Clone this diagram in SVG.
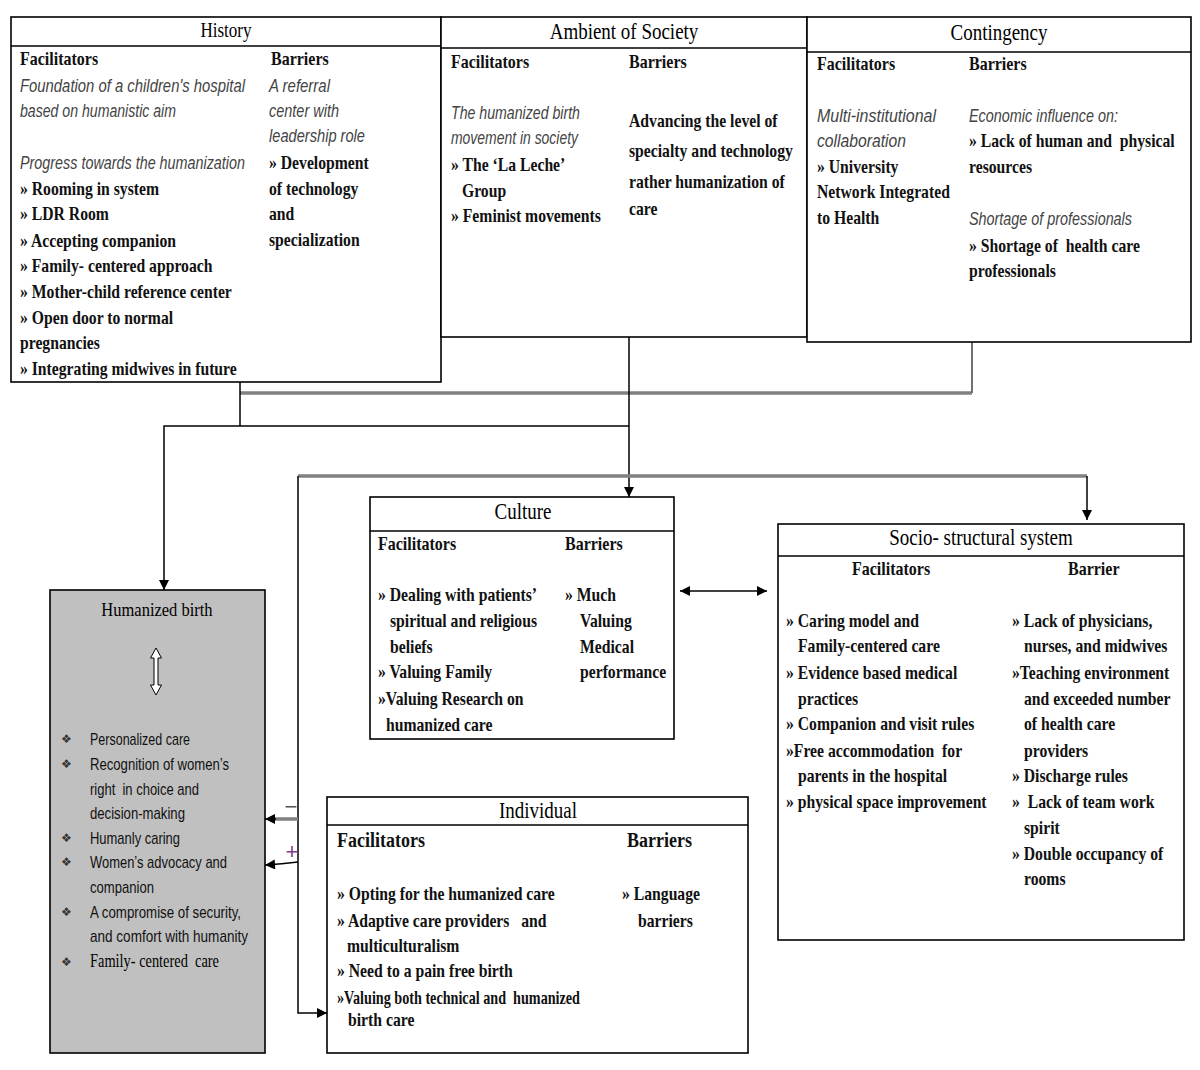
<svg xmlns="http://www.w3.org/2000/svg" width="1200" height="1070" viewBox="0 0 1200 1070">
<style>
text{white-space:pre;transform-box:fill-box;transform-origin:0 100%}
.box{fill:#fff;stroke:#000;stroke-width:1.6}
.hb{fill:#c0c0c0;stroke:#000;stroke-width:1.6}
.dv{stroke:#000;stroke-width:1.6}
.t{font-family:"Liberation Serif",serif;font-size:19px;fill:#000;transform:scaleY(1.17)}
.h{font-family:"Liberation Serif",serif;font-weight:bold;font-size:16px;fill:#111;transform:scaleY(1.2)}
.b{font-family:"Liberation Serif",serif;font-weight:bold;font-size:15.7px;fill:#111;transform:scaleY(1.2)}
.i{font-family:"Liberation Sans",sans-serif;font-style:italic;font-size:16.5px;fill:#444;transform:scaleY(1.15)}
.s{font-family:"Liberation Sans",sans-serif;font-size:15.5px;fill:#111;transform:scaleY(1.12)}
.bu{font-family:"DejaVu Sans",sans-serif;font-size:12px;fill:#333}
.sg{font-family:"Liberation Sans",sans-serif;font-size:22px;text-anchor:middle}
.ln{stroke:#000;stroke-width:1.5;fill:none}
.gl{stroke:#808080;stroke-width:3.5;fill:none}
.gv{stroke:#707070;stroke-width:2;fill:none}
.mid{text-anchor:middle}
</style>
<defs>
<marker id="ah" viewBox="0 0 10 10" refX="10" refY="5" markerWidth="11" markerHeight="10" markerUnits="userSpaceOnUse" orient="auto-start-reverse">
<path d="M0,0 L10,5 L0,10 z" fill="#000"/>
</marker>
</defs>

<g id="connectors">
<path class="gl" d="M240,393 H972"/>
<path class="gv" d="M972,393 V342"/>
<path class="ln" d="M240,382 V426"/>
<path class="ln" d="M629,426 H164 V590" marker-end="url(#ah)"/>
<path class="ln" d="M629,337 V497" marker-end="url(#ah)"/>
<path class="gl" d="M298,476 H1087"/>
<path class="ln" d="M1087,476 V520" marker-end="url(#ah)"/>
<path class="ln" d="M298,476 V1013 H327" marker-end="url(#ah)"/>
<path class="gl" d="M298,819 H272"/>
<path class="ln" d="M276,819 H265" marker-end="url(#ah)"/>
<path class="ln" d="M298,862 Q282,864 265,865" marker-end="url(#ah)"/>
<path class="ln" d="M680,591 H767" marker-start="url(#ah)" marker-end="url(#ah)"/>
<text x="291" y="814" class="sg" style="fill:#555">−</text>
<text x="292" y="859" class="sg" style="fill:#7a3f8a">+</text>
</g>

<g id="history">
<rect class="box" x="11" y="17" width="430" height="365"/>
<line class="dv" x1="11" y1="46" x2="441" y2="46"/>
<text x="226" y="38" class="t mid" style="font-size:17px">History</text>
<text x="20" y="66" class="h">Facilitators</text>
<text x="271" y="66" class="h">Barriers</text>
<text x="20" y="93" class="i" textLength="225" lengthAdjust="spacingAndGlyphs">Foundation of a children's hospital</text>
<text x="20" y="118" class="i" textLength="156" lengthAdjust="spacingAndGlyphs">based on humanistic aim</text>
<text x="20" y="170" class="i" textLength="225" lengthAdjust="spacingAndGlyphs">Progress towards the humanization</text>
<text x="20" y="196" class="b">» Rooming in system</text>
<text x="20" y="221" class="b">» LDR Room</text>
<text x="20" y="248" class="b">» Accepting companion</text>
<text x="20" y="273" class="b">» Family- centered approach</text>
<text x="20" y="299" class="b">» Mother-child reference center</text>
<text x="20" y="325" class="b">» Open door to normal</text>
<text x="20" y="350" class="b">pregnancies</text>
<text x="20" y="376" class="b">» Integrating midwives in future</text>
<text x="269" y="93" class="i" textLength="61" lengthAdjust="spacingAndGlyphs">A referral</text>
<text x="269" y="118" class="i" textLength="70" lengthAdjust="spacingAndGlyphs">center with</text>
<text x="269" y="143" class="i" textLength="96" lengthAdjust="spacingAndGlyphs">leadership role</text>
<text x="269" y="170" class="b">» Development</text>
<text x="269" y="196" class="b">of technology</text>
<text x="269" y="221" class="b">and</text>
<text x="269" y="247" class="b">specialization</text>
</g>

<g id="ambient">
<rect class="box" x="441" y="17" width="366" height="320"/>
<line class="dv" x1="441" y1="48" x2="807" y2="48"/>
<text x="624" y="40" class="t mid">Ambient of Society</text>
<text x="451" y="69" class="h">Facilitators</text>
<text x="629" y="69" class="h">Barriers</text>
<text x="451" y="120" class="i" textLength="129" lengthAdjust="spacingAndGlyphs">The humanized birth</text>
<text x="451" y="145" class="i" textLength="127" lengthAdjust="spacingAndGlyphs">movement in society</text>
<text x="451" y="172" class="b">» The ‘La Leche’</text>
<text x="462" y="198" class="b">Group</text>
<text x="451" y="223" class="b">» Feminist movements</text>
<text x="629" y="128" class="b">Advancing the level of</text>
<text x="629" y="158" class="b">specialty and technology</text>
<text x="629" y="189" class="b">rather humanization of</text>
<text x="629" y="216" class="b">care</text>
</g>

<g id="contingency">
<rect class="box" x="807" y="17" width="384" height="325"/>
<line class="dv" x1="807" y1="52" x2="1191" y2="52"/>
<text x="999" y="41" class="t mid">Contingency</text>
<text x="817" y="71" class="h">Facilitators</text>
<text x="969" y="71" class="h">Barriers</text>
<text x="817" y="123" class="i" textLength="119" lengthAdjust="spacingAndGlyphs">Multi-institutional</text>
<text x="817" y="148" class="i" textLength="89" lengthAdjust="spacingAndGlyphs">collaboration</text>
<text x="817" y="174" class="b">» University</text>
<text x="817" y="199" class="b">Network Integrated</text>
<text x="817" y="225" class="b">to Health</text>
<text x="969" y="123" class="i" textLength="149" lengthAdjust="spacingAndGlyphs">Economic influence on:</text>
<text x="969" y="148" class="b">» Lack of human and  physical</text>
<text x="969" y="174" class="b">resources</text>
<text x="969" y="226" class="i" textLength="163" lengthAdjust="spacingAndGlyphs">Shortage of professionals</text>
<text x="969" y="253" class="b">» Shortage of  health care</text>
<text x="969" y="278" class="b">professionals</text>
</g>

<g id="culture">
<rect class="box" x="370" y="497" width="304" height="242"/>
<line class="dv" x1="370" y1="531" x2="674" y2="531"/>
<text x="523" y="520" class="t mid">Culture</text>
<text x="378" y="551" class="h">Facilitators</text>
<text x="565" y="551" class="h">Barriers</text>
<text x="378" y="602" class="b">» Dealing with patients’</text>
<text x="390" y="628" class="b">spiritual and religious</text>
<text x="390" y="654" class="b">beliefs</text>
<text x="378" y="679" class="b">» Valuing Family</text>
<text x="378" y="706" class="b">»Valuing Research on</text>
<text x="386" y="732" class="b">humanized care</text>
<text x="565" y="602" class="b">» Much</text>
<text x="580" y="628" class="b">Valuing</text>
<text x="580" y="654" class="b">Medical</text>
<text x="580" y="679" class="b">performance</text>
</g>

<g id="socio-structural">
<rect class="box" x="778" y="524" width="406" height="416"/>
<line class="dv" x1="778" y1="556" x2="1184" y2="556"/>
<text x="981" y="546" class="t mid">Socio- structural system</text>
<text x="852" y="576" class="h">Facilitators</text>
<text x="1068" y="576" class="h">Barrier</text>
<text x="786" y="628" class="b">» Caring model and</text>
<text x="798" y="653" class="b">Family-centered care</text>
<text x="786" y="680" class="b">» Evidence based medical</text>
<text x="798" y="706" class="b">practices</text>
<text x="786" y="731" class="b">» Companion and visit rules</text>
<text x="786" y="758" class="b">»Free accommodation  for</text>
<text x="798" y="783" class="b">parents in the hospital</text>
<text x="786" y="809" class="b">» physical space improvement</text>
<text x="1012" y="628" class="b">» Lack of physicians,</text>
<text x="1024" y="653" class="b">nurses, and midwives</text>
<text x="1012" y="680" class="b">»Teaching environment</text>
<text x="1024" y="706" class="b">and exceeded number</text>
<text x="1024" y="731" class="b">of health care</text>
<text x="1024" y="758" class="b">providers</text>
<text x="1012" y="783" class="b">» Discharge rules</text>
<text x="1012" y="809" class="b">»  Lack of team work</text>
<text x="1024" y="835" class="b">spirit</text>
<text x="1012" y="861" class="b">» Double occupancy of</text>
<text x="1024" y="886" class="b">rooms</text>
</g>

<g id="humanized-birth">
<rect class="hb" x="50" y="590" width="215" height="463"/>
<text x="157" y="617" class="t mid" style="font-size:16.5px">Humanized birth</text>
<polygon points="156,648 150.5,658 154,658 154,685 150.5,685 156,695 161.5,685 158,685 158,658 161.5,658" fill="#fff" stroke="#000" stroke-width="1"/>
<text x="61" y="743" class="bu">❖</text>
<text x="90" y="745" class="s" textLength="100" lengthAdjust="spacingAndGlyphs">Personalized care</text>
<text x="61" y="768" class="bu">❖</text>
<text x="90" y="770" class="s" textLength="139" lengthAdjust="spacingAndGlyphs">Recognition of women’s</text>
<text x="90" y="795" class="s" textLength="109" lengthAdjust="spacingAndGlyphs">right  in choice and</text>
<text x="90" y="819" class="s" textLength="95" lengthAdjust="spacingAndGlyphs">decision-making</text>
<text x="61" y="842" class="bu">❖</text>
<text x="90" y="844" class="s" textLength="90" lengthAdjust="spacingAndGlyphs">Humanly caring</text>
<text x="61" y="866" class="bu">❖</text>
<text x="90" y="868" class="s" textLength="137" lengthAdjust="spacingAndGlyphs">Women’s advocacy and</text>
<text x="90" y="893" class="s" textLength="64" lengthAdjust="spacingAndGlyphs">companion</text>
<text x="61" y="916" class="bu">❖</text>
<text x="90" y="918" class="s" textLength="151" lengthAdjust="spacingAndGlyphs">A compromise of security,</text>
<text x="90" y="942" class="s" textLength="158" lengthAdjust="spacingAndGlyphs">and comfort with humanity</text>
<text x="61" y="966" class="bu">❖</text>
<text x="90" y="968" class="t" style="font-size:16px" textLength="129" lengthAdjust="spacingAndGlyphs">Family- centered  care</text>
</g>

<g id="individual">
<rect class="box" x="327" y="797" width="421" height="256"/>
<line class="dv" x1="327" y1="825" x2="748" y2="825"/>
<text x="538" y="819" class="t mid">Individual</text>
<text x="337" y="848" class="h" style="font-size:18px">Facilitators</text>
<text x="627" y="848" class="h" style="font-size:18px">Barriers</text>
<text x="337" y="901" class="b">» Opting for the humanized care</text>
<text x="337" y="928" class="b">» Adaptive care providers   and</text>
<text x="347" y="953" class="b">multiculturalism</text>
<text x="337" y="978" class="b">» Need to a pain free birth</text>
<text x="337" y="1005" class="b" textLength="243" lengthAdjust="spacingAndGlyphs">»Valuing both technical and  humanized</text>
<text x="348" y="1027" class="b">birth care</text>
<text x="622" y="901" class="b">» Language</text>
<text x="638" y="928" class="b">barriers</text>
</g>
</svg>
